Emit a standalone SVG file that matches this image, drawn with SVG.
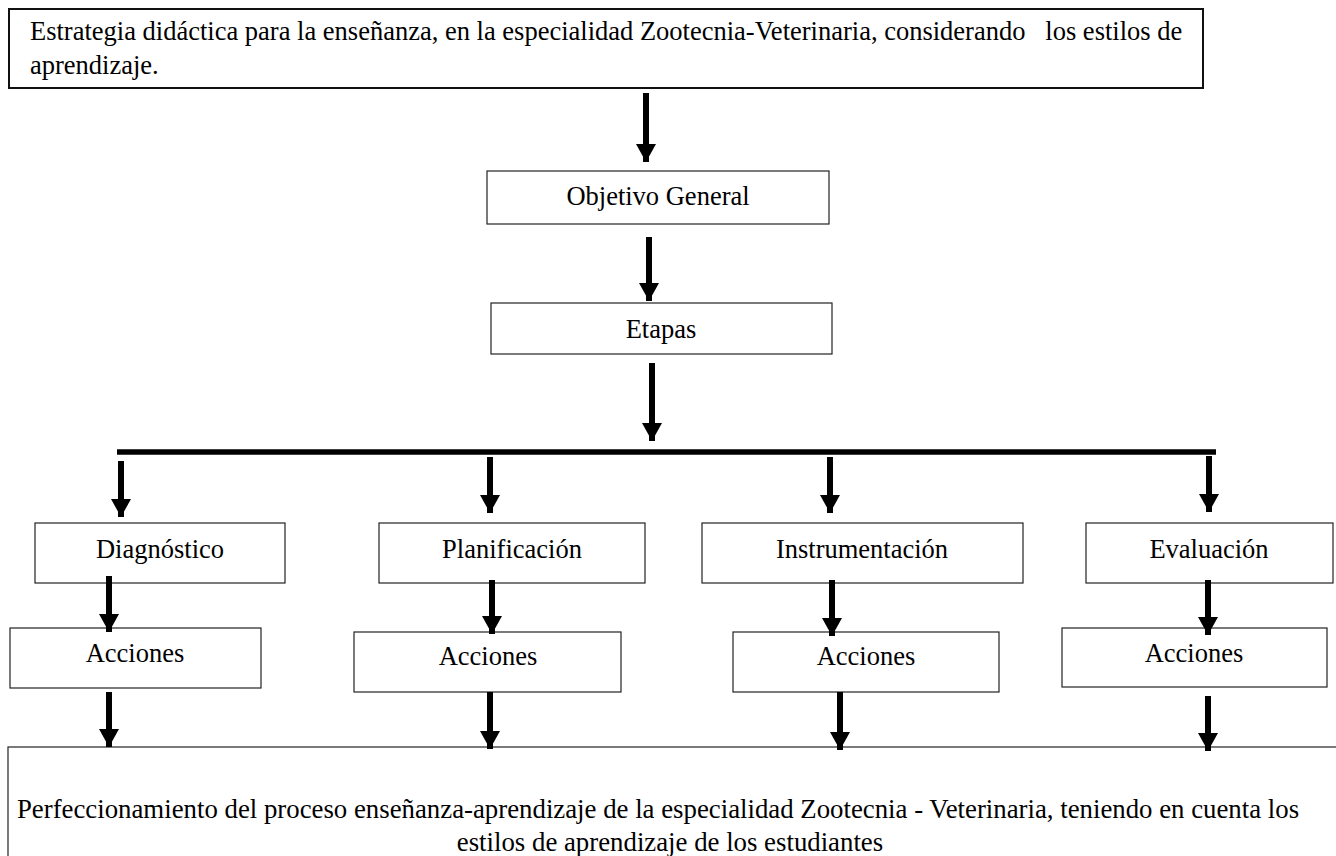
<svg xmlns="http://www.w3.org/2000/svg" width="1336" height="856" viewBox="0 0 1336 856">
<style>
.box{fill:#fff;stroke:#222;stroke-width:1.2}
.top{fill:#fff;stroke:#111;stroke-width:2}
.t{font-family:"Liberation Serif","Times New Roman",serif;font-size:26.5px;fill:#000}
.b{font-size:26.8px}
.c{text-anchor:middle}
.arr{stroke:#000;stroke-width:6;fill:none;marker-end:url(#ah)}
.bar{stroke:#000;stroke-width:5.5}
</style>
<defs>
<marker id="ah" markerUnits="userSpaceOnUse" viewBox="0 0 18 20" markerWidth="18" markerHeight="20" refX="18" refY="10" orient="auto">
<path d="M0,0 L18,10 L0,20 Z" fill="#000"/>
</marker>
</defs>
<rect width="1336" height="856" fill="#fff"/>
<g id="connectors">
<line class="arr" x1="646" y1="93" x2="646" y2="162"/>
<line class="arr" x1="649" y1="237" x2="649" y2="301"/>
<line class="arr" x1="652" y1="363" x2="652" y2="441"/>
<line class="bar" x1="117" y1="452" x2="1216" y2="452"/>
<line class="arr" x1="121" y1="461" x2="121" y2="517"/>
<line class="arr" x1="490" y1="457" x2="490" y2="513"/>
<line class="arr" x1="830" y1="457" x2="830" y2="513"/>
<line class="arr" x1="1209" y1="456" x2="1209" y2="512"/>
</g>
<g id="n-top">
<rect class="top" x="9" y="9" width="1194" height="79"/>
<text class="t" x="30" y="40" xml:space="preserve">Estrategia didáctica para la enseñanza, en la especialidad Zootecnia-Veterinaria, considerando   los estilos de</text>
<text class="t" x="30" y="74">aprendizaje.</text>
</g>
<g id="n-objetivo">
<rect class="box" x="487" y="171" width="342" height="53"/>
<text class="t c" x="658" y="205">Objetivo General</text>
</g>
<g id="n-etapas">
<rect class="box" x="491" y="303" width="341" height="51"/>
<text class="t c" x="661" y="338">Etapas</text>
</g>
<g id="n-diagnostico">
<rect class="box" x="35" y="523" width="250" height="60"/>
<text class="t c" x="160" y="558">Diagnóstico</text>
</g>
<g id="n-planificacion">
<rect class="box" x="379" y="523" width="266" height="60"/>
<text class="t c" x="512" y="558">Planificación</text>
</g>
<g id="n-instrumentacion">
<rect class="box" x="702" y="523" width="321" height="60"/>
<text class="t c" x="862" y="558">Instrumentación</text>
</g>
<g id="n-evaluacion">
<rect class="box" x="1086" y="523" width="247" height="60"/>
<text class="t c" x="1209" y="558">Evaluación</text>
</g>
<g id="n-acciones1">
<rect class="box" x="10" y="628" width="251" height="60"/>
<text class="t c" x="135" y="662">Acciones</text>
</g>
<g id="n-acciones2">
<rect class="box" x="354" y="632" width="267" height="60"/>
<text class="t c" x="488" y="665">Acciones</text>
</g>
<g id="n-acciones3">
<rect class="box" x="733" y="632" width="266" height="60"/>
<text class="t c" x="866" y="665">Acciones</text>
</g>
<g id="n-acciones4">
<rect class="box" x="1062" y="628" width="265" height="59"/>
<text class="t c" x="1194" y="662">Acciones</text>
</g>
<g id="n-resultado">
<rect class="box" x="8" y="747" width="1340" height="130"/>
<text class="t b c" x="658" y="818">Perfeccionamiento del proceso enseñanza-aprendizaje de la especialidad Zootecnia - Veterinaria, teniendo en cuenta los</text>
<text class="t b c" x="670" y="851">estilos de aprendizaje de los estudiantes</text>
</g>
<g id="connectors2">
<line class="arr" x1="109" y1="576" x2="109" y2="632"/>
<line class="arr" x1="492" y1="580" x2="492" y2="634"/>
<line class="arr" x1="832" y1="580" x2="832" y2="636"/>
<line class="arr" x1="1208" y1="580" x2="1208" y2="635"/>
<line class="arr" x1="109" y1="692" x2="109" y2="747"/>
<line class="arr" x1="490" y1="692" x2="490" y2="749"/>
<line class="arr" x1="840" y1="692" x2="840" y2="750"/>
<line class="arr" x1="1208" y1="696" x2="1208" y2="751"/>
</g>
</svg>
